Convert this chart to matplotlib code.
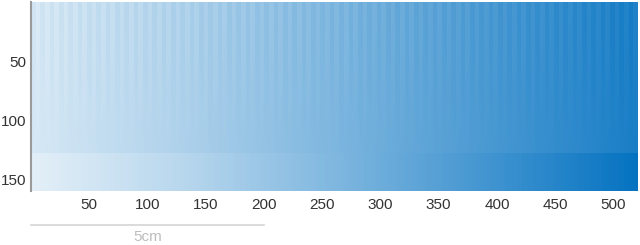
import numpy as np
import matplotlib
matplotlib.use("Agg")
import matplotlib.pyplot as plt
from matplotlib.colors import LinearSegmentedColormap

plt.rcParams['font.family'] = ['Liberation Sans', 'DejaVu Sans']

# image size in data units
img_width = 520
img_height = 160
band_start = 128          # lower band begins here

# colour level at anchor columns (0 = white, 1 = full blue)
anchor_x = [0, 130, 260, 390, 520]
upper_level = [0.16, 0.32, 0.51, 0.71, 0.90]
lower_level = [0.11, 0.28, 0.50, 0.74, 0.98]

stripe_period = 8
stripe_amp = [0.022, 0.015, 0.006, 0.0]   # stripe strength at these rows
stripe_rows = [0, 50, 90, 128]

xticks = [50, 100, 150, 200, 250, 300, 350, 400, 450, 500]
yticks = [50, 100, 150]
scale_len = 200
scale_label = "5cm"

cols = np.arange(img_width) + 0.5
rows = np.arange(img_height) + 0.5
up = np.interp(cols, anchor_x, upper_level)
lo = np.interp(cols, anchor_x, lower_level)
stripe = np.where((np.arange(img_width) // (stripe_period // 2)) % 2 == 0, 1.0, -1.0)
amp = np.interp(rows, stripe_rows, stripe_amp)

img = np.empty((img_height, img_width))
for i, r in enumerate(rows):
    if r < band_start:
        img[i] = up + amp[i] * stripe
    else:
        img[i] = lo

cmap = LinearSegmentedColormap.from_list("blue", ["#ffffff", "#0070c0"])

fig = plt.figure(figsize=(6.4, 2.45), dpi=100)
ax = fig.add_axes([0.048, 0.22, 0.947, 0.772])
ax.imshow(img, cmap=cmap, vmin=0, vmax=1, extent=(0, img_width, img_height, 0),
          aspect='auto', interpolation='nearest')

ax.set_xticks(xticks)
ax.set_yticks(yticks)
ax.tick_params(axis='x', length=0, labelsize=11, labelcolor='#333333', pad=5)
ax.tick_params(axis='y', length=0, labelsize=11, labelcolor='#333333', pad=3)
for s in ['top', 'right', 'bottom']:
    ax.spines[s].set_visible(False)
ax.spines['left'].set_color('#9a9a9a')
ax.spines['left'].set_linewidth(1.5)

# scale bar under the image
ax.plot([0, scale_len], [189, 189], color='#d4d4d4', lw=1.2, clip_on=False)
ax.text(scale_len / 2, 193, scale_label, ha='center', va='top', fontsize=11,
        color='#bdbdbd', clip_on=False)
ax.set_xlim(0, img_width)
ax.set_ylim(img_height, 0)

fig.savefig("out.png", dpi=100)
